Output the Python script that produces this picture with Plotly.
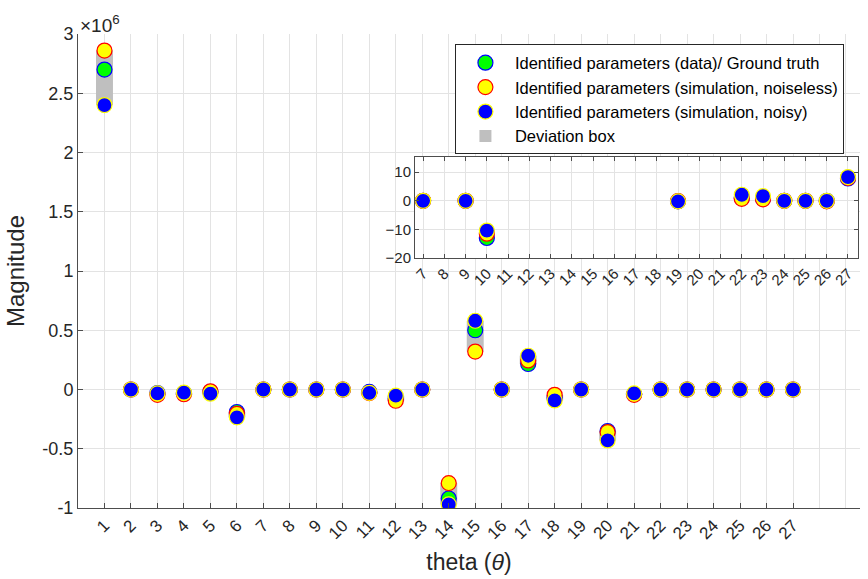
import plotly.graph_objects as go

# ---------------- data ----------------
params = list(range(1, 28))
tick_labels = [str(p) for p in params]

# main plot values (x10^6)
ground_truth = [2.70, 0.0, -0.03, -0.03, -0.02, -0.19, 0.0, 0.0, 0.0, 0.0,
                -0.02, -0.075, 0.0, -0.92, 0.50, 0.0, 0.215, -0.07, 0.0, -0.35,
                -0.04, 0.0, 0.0, 0.0, 0.0, 0.0, 0.0]
noiseless = [2.86, 0.0, -0.045, -0.04, -0.015, -0.205, 0.0, 0.0, 0.0, 0.0,
             -0.03, -0.095, 0.0, -0.79, 0.32, 0.0, 0.245, -0.045, 0.0, -0.36,
             -0.045, 0.0, 0.0, 0.0, 0.0, 0.0, 0.0]
noisy = [2.40, 0.0, -0.033, -0.027, -0.035, -0.235, 0.0, 0.0, 0.0, 0.0,
         -0.028, -0.052, 0.0, -0.97, 0.58, 0.0, 0.285, -0.092, 0.0, -0.43,
         -0.033, 0.0, 0.0, 0.0, 0.0, 0.0, 0.0]

# inset values (raw units)
inset_params = [7, 9, 10, 19, 22, 23, 24, 25, 26, 27]
inset_labels = [str(p) for p in range(7, 28)]
inset_truth = [0.0, 0.0, -13.0, -0.2, 1.0, 0.8, 0.0, 0.0, 0.0, 7.8]
inset_noiseless = [0.0, 0.0, -11.5, -0.1, 0.7, 0.5, 0.0, 0.0, -0.2, 8.0]
inset_noisy = [0.0, 0.0, -10.4, -0.2, 2.1, 1.6, 0.0, 0.0, 0.0, 8.3]

FONT = "Liberation Sans, Arial, Helvetica, sans-serif"
TXT = "#262626"
GRID = "#e3e3e3"
AX = "#4d4d4d"

fig = go.Figure()


def add_set(xs, g, y, b, xa, ya, legend):
    lo = [min(v) for v in zip(g, y, b)]
    hi = [max(v) for v in zip(g, y, b)]
    fig.add_trace(go.Bar(x=xs, y=[h - l for h, l in zip(hi, lo)], base=lo,
                         width=0.64, marker=dict(color="#bfbfbf", line=dict(width=0)),
                         name="Deviation box", showlegend=legend, legendrank=4,
                         xaxis=xa, yaxis=ya))
    fig.add_trace(go.Scatter(x=xs, y=g, mode="markers",
                             marker=dict(size=15, color="#00ff00", line=dict(color="#0000ff", width=1.2)),
                             name="Identified parameters (data)/ Ground truth",
                             showlegend=legend, legendrank=1, xaxis=xa, yaxis=ya))
    fig.add_trace(go.Scatter(x=xs, y=y, mode="markers",
                             marker=dict(size=15, color="#ffff00", line=dict(color="#ff0000", width=1.2)),
                             name="Identified parameters (simulation, noiseless)",
                             showlegend=legend, legendrank=2, xaxis=xa, yaxis=ya))
    fig.add_trace(go.Scatter(x=xs, y=b, mode="markers",
                             marker=dict(size=15, color="#0000ff", line=dict(color="#ffff00", width=1.2)),
                             name="Identified parameters (simulation, noisy)",
                             showlegend=legend, legendrank=3, xaxis=xa, yaxis=ya))


add_set(params, ground_truth, noiseless, noisy, "x", "y", True)
add_set(inset_params, inset_truth, inset_noiseless, inset_noisy, "x2", "y2", False)

fig.update_layout(
    width=868, height=579,
    margin=dict(l=78, r=8, t=34, b=71),
    paper_bgcolor="white", plot_bgcolor="white",
    font=dict(family=FONT, color=TXT, size=18),
    barmode="overlay",
    showlegend=True,
    legend=dict(x=0.482, y=0.978, xanchor="left", yanchor="top",
                bordercolor="#262626", borderwidth=1, bgcolor="white",
                font=dict(size=16.5, color="#000000"), tracegroupgap=0,
                itemwidth=49),
    xaxis=dict(domain=[0, 1], range=[0, 29.53],
               tickmode="array", tickvals=params, ticktext=tick_labels,
               tickangle=-45, ticks="inside", ticklen=5, tickcolor=AX,
               showgrid=True, gridcolor=GRID, gridwidth=1,
               minor=dict(tickvals=[28, 29], showgrid=True, gridcolor=GRID, ticks=""),
               showline=True, linecolor=AX, linewidth=1, zeroline=False,
               tickfont=dict(size=17),
               title=dict(text="theta (<i>θ</i>)", font=dict(size=23), standoff=11)),
    yaxis=dict(domain=[0, 1], range=[-1, 3],
               tickmode="array", tickvals=[-1, -0.5, 0, 0.5, 1, 1.5, 2, 2.5, 3],
               ticktext=["-1", "-0.5", "0", "0.5", "1", "1.5", "2", "2.5", "3"],
               ticks="inside", ticklen=5, tickcolor=AX,
               showgrid=True, gridcolor=GRID, gridwidth=1,
               showline=True, linecolor=AX, linewidth=1, zeroline=False,
               tickfont=dict(size=18),
               title=dict(text="Magnitude", font=dict(size=24), standoff=10)),
    xaxis2=dict(domain=[0.431, 0.9974], anchor="y2", range=[6.62, 27.47],
                tickmode="array", tickvals=list(range(7, 28)), ticktext=inset_labels,
                tickangle=-45, ticks="inside", ticklen=4, tickcolor=AX,
                showgrid=True, gridcolor=GRID, mirror="ticks",
                showline=True, linecolor=AX, linewidth=1, zeroline=False,
                tickfont=dict(size=15)),
    yaxis2=dict(domain=[0.5274, 0.7405], anchor="x2", range=[-20, 15.3],
                tickmode="array", tickvals=[-20, -10, 0, 10],
                ticks="inside", ticklen=4, tickcolor=AX,
                showgrid=True, gridcolor=GRID, mirror="ticks",
                showline=True, linecolor=AX, linewidth=1, zeroline=False,
                tickfont=dict(size=15)),
)

# inset white background
fig.add_shape(type="rect", xref="x2 domain", yref="y2 domain", x0=0, x1=1, y0=0, y1=1,
              fillcolor="white", line=dict(width=0), layer="below")

fig.add_annotation(text="×10<sup>6</sup>", xref="paper", yref="paper", x=0.0, y=1.0,
                   xanchor="left", yanchor="bottom", showarrow=False,
                   font=dict(size=19, color=TXT), yshift=-4)

fig.write_html("out.html")
